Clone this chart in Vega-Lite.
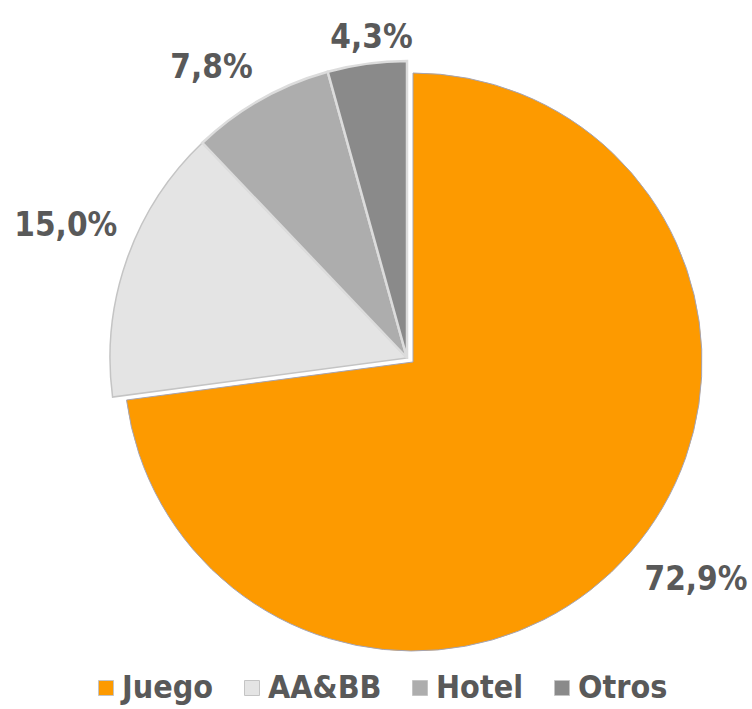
{
  "$schema": "https://vega.github.io/schema/vega-lite/v6.json",
  "width": 752,
  "height": 709,
  "autosize": "none",
  "padding": 0,
  "background": "white",
  "data": {
    "values": [
      {"cat": "Juego", "value": 72.9, "label": "72,9%", "order": 1},
      {"cat": "AA&BB", "value": 15.0, "label": "15,0%", "order": 2},
      {"cat": "Hotel", "value": 7.8, "label": "7,8%", "order": 3},
      {"cat": "Otros", "value": 4.3, "label": "4,3%", "order": 4}
    ]
  },
  "layer": [
    {
      "transform": [
        {"stack": "value", "groupby": [], "sort": [{"field": "order", "order": "ascending"}], "as": ["v0", "v1"]},
        {"filter": "datum.cat === 'Juego'"}
      ],
      "mark": {"type": "arc", "outerRadius": 289, "xOffset": 37, "yOffset": 7.5, "stroke": "#a4a4b4", "strokeWidth": 1},
      "encoding": {
        "theta": {"field": "v0", "type": "quantitative", "scale": {"domain": [0, 100]}},
        "theta2": {"field": "v1"},
        "fill": {
          "field": "cat", "type": "nominal",
          "scale": {"domain": ["Juego", "AA&BB", "Hotel", "Otros"], "range": ["#FD9A00", "#E4E4E4", "#ADADAD", "#8A8A8A"]},
          "sort": ["Juego", "AA&BB", "Hotel", "Otros"],
          "legend": {
            "orient": "none", "legendX": 90, "legendY": 672, "direction": "horizontal", "title": null,
            "symbolType": "square", "symbolSize": 225, "symbolStrokeColor": "#999999", "symbolStrokeWidth": 1,
            "labelFont": "DejaVu Sans Condensed", "labelFontWeight": "bold", "labelFontSize": 32,
            "labelColor": "#595959", "columnPadding": 22, "labelOffset": 0, "labelLimit": 300
          }
        }
      }
    },
    {
      "transform": [
        {"stack": "value", "groupby": [], "sort": [{"field": "order", "order": "ascending"}], "as": ["v0", "v1"]},
        {"filter": "datum.cat === 'AA&BB'"}
      ],
      "mark": {"type": "arc", "outerRadius": 297, "xOffset": 31, "yOffset": 3.5, "stroke": "#c4c4c4", "strokeWidth": 1.5},
      "encoding": {
        "theta": {"field": "v0", "type": "quantitative", "scale": {"domain": [0, 100]}},
        "theta2": {"field": "v1"},
        "fill": {"field": "cat", "type": "nominal"}
      }
    },
    {
      "transform": [
        {"stack": "value", "groupby": [], "sort": [{"field": "order", "order": "ascending"}], "as": ["v0", "v1"]},
        {"filter": "datum.cat === 'Hotel'"}
      ],
      "mark": {"type": "arc", "outerRadius": 297, "xOffset": 31, "yOffset": 3.5, "stroke": "#dcdcdc", "strokeWidth": 2.5},
      "encoding": {
        "theta": {"field": "v0", "type": "quantitative", "scale": {"domain": [0, 100]}},
        "theta2": {"field": "v1"},
        "fill": {"field": "cat", "type": "nominal"}
      }
    },
    {
      "transform": [
        {"stack": "value", "groupby": [], "sort": [{"field": "order", "order": "ascending"}], "as": ["v0", "v1"]},
        {"filter": "datum.cat === 'Otros'"}
      ],
      "mark": {"type": "arc", "outerRadius": 297, "xOffset": 31, "yOffset": 3.5, "stroke": "#dcdcdc", "strokeWidth": 2.5},
      "encoding": {
        "theta": {"field": "v0", "type": "quantitative", "scale": {"domain": [0, 100]}},
        "theta2": {"field": "v1"},
        "fill": {"field": "cat", "type": "nominal"}
      }
    },
    {
      "mark": {"type": "text", "radius": 355, "xOffset": 37, "yOffset": 7.5, "dx": 16, "dy": -16,
        "font": "DejaVu Sans Condensed", "fontWeight": "bold", "fontSize": 33, "fill": "#595959", "align": "center", "baseline": "middle"},
      "encoding": {
        "theta": {"field": "value", "type": "quantitative", "stack": true},
        "order": {"field": "order", "type": "quantitative"},
        "text": {"condition": {"test": "datum.cat === 'Juego'", "field": "label"}, "value": ""}
      }
    },
    {
      "mark": {"type": "text", "radius": 365, "xOffset": 31, "yOffset": 3.5, "dx": 3, "dy": -11,
        "font": "DejaVu Sans Condensed", "fontWeight": "bold", "fontSize": 33, "fill": "#595959", "align": "center", "baseline": "middle"},
      "encoding": {
        "theta": {"field": "value", "type": "quantitative", "stack": true},
        "order": {"field": "order", "type": "quantitative"},
        "text": {"condition": {"test": "datum.cat === 'AA&BB'", "field": "label"}, "value": ""}
      }
    },
    {
      "mark": {"type": "text", "radius": 350, "xOffset": 31, "yOffset": 3.5, "dx": -23, "dy": 15,
        "font": "DejaVu Sans Condensed", "fontWeight": "bold", "fontSize": 33, "fill": "#595959", "align": "center", "baseline": "middle"},
      "encoding": {
        "theta": {"field": "value", "type": "quantitative", "stack": true},
        "order": {"field": "order", "type": "quantitative"},
        "text": {"condition": {"test": "datum.cat === 'Hotel'", "field": "label"}, "value": ""}
      }
    },
    {
      "mark": {"type": "text", "radius": 323, "xOffset": 31, "yOffset": 3.5, "dx": 8,
        "font": "DejaVu Sans Condensed", "fontWeight": "bold", "fontSize": 33, "fill": "#595959", "align": "center", "baseline": "middle"},
      "encoding": {
        "theta": {"field": "value", "type": "quantitative", "stack": true},
        "order": {"field": "order", "type": "quantitative"},
        "text": {"condition": {"test": "datum.cat === 'Otros'", "field": "label"}, "value": ""}
      }
    }
  ],
  "config": {"view": {"stroke": null}}
}
